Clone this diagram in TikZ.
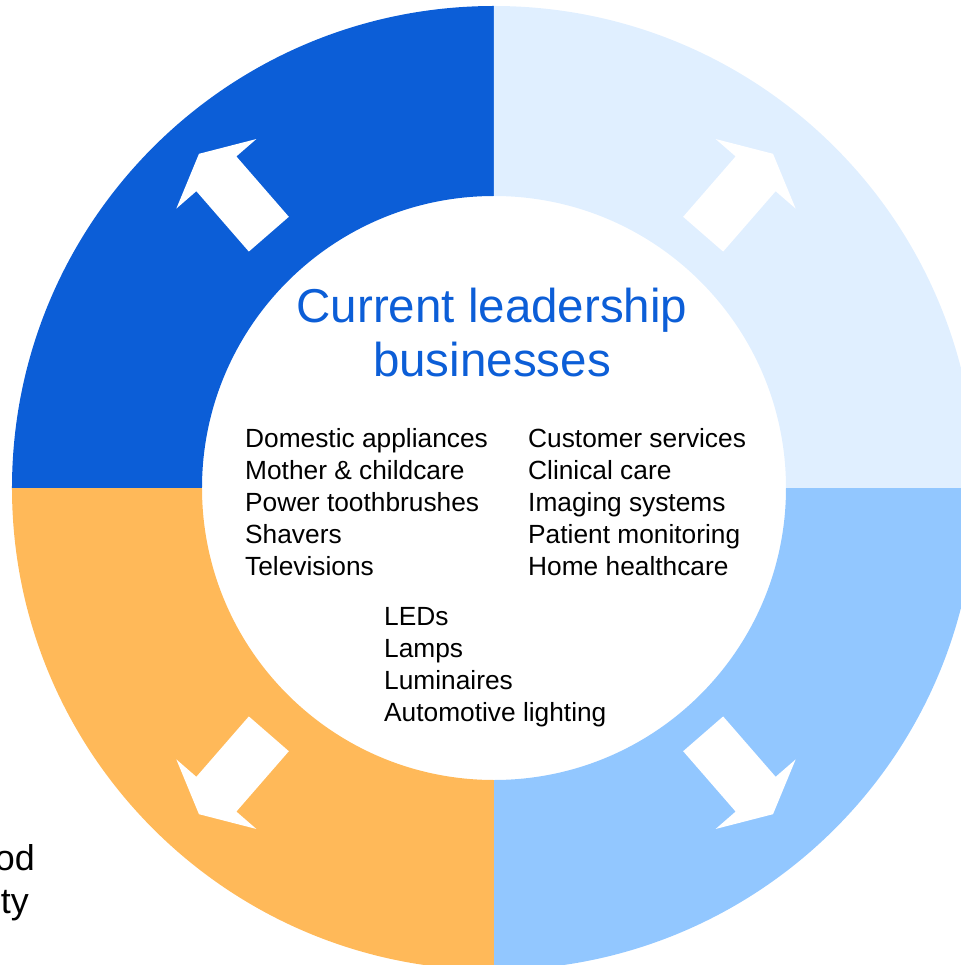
\documentclass[tikz,border=0pt]{standalone}
\usepackage{fontspec}
\setmainfont{Liberation Sans}
\usepackage{xcolor}
\usepackage{tikz}
\definecolor{ringdark}{RGB}{12,94,215}
\definecolor{ringpale}{RGB}{224,239,255}
\definecolor{ringmid}{RGB}{146,199,255}
\definecolor{ringorange}{RGB}{255,185,89}
\tikzset{%
  titletext/.style={anchor=base, inner sep=0pt, align=center, text=ringdark,
    font=\fontsize{47.7}{55}\selectfont},
  listtext/.style={anchor=base west, inner sep=0pt, align=left,
    font=\fontsize{26.4}{32}\selectfont},
  cuttext/.style={anchor=base east, inner sep=0pt, font=\fontsize{36}{43}\selectfont}
}

\begin{document}
\begin{tikzpicture}[x=1bp,y=1bp]
\useasboundingbox (-494,-477) rectangle (467,488);
% ring quarters
\fill[color=ringdark] (90:482) arc[start angle=90, end angle=180, radius=482] -- (180:292) arc[start angle=180, end angle=90, radius=292] -- cycle;
\fill[color=ringpale] (0:482) arc[start angle=0, end angle=90, radius=482] -- (90:292) arc[start angle=90, end angle=0, radius=292] -- cycle;
\fill[color=ringmid] (270:482) arc[start angle=270, end angle=360, radius=482] -- (0:292) arc[start angle=360, end angle=270, radius=292] -- cycle;
\fill[color=ringorange] (180:482) arc[start angle=180, end angle=270, radius=482] -- (270:292) arc[start angle=270, end angle=180, radius=292] -- cycle;
% white arrows
\begin{scope}[shift={(-8,4)}]
\foreach \a in {131,49,-49,-131}
  \fill[white, rotate=\a] (331,-26.5) -- (411,-26.5) -- (411,-53) -- (437.5,0) -- (411,53) -- (411,26.5) -- (331,26.5) -- cycle;
\end{scope}
% texts (base = last line)
\node[titletext] (title) at (-2,111) {Current leadership\\businesses};
\node[listtext] (consumer) at (-249,-87) {Domestic appliances\\Mother \& childcare\\Power toothbrushes\\Shavers\\Televisions};
\node[listtext] (health) at (34,-87) {Customer services\\Clinical care\\Imaging systems\\Patient monitoring\\Home healthcare};
\node[listtext] (lighting) at (-110,-233) {LEDs\\Lamps\\Luminaires\\Automotive lighting};
\node[cuttext] (cutA) at (-459,-382) {od};
\node[cuttext] (cutB) at (-465,-425) {ty};
\end{tikzpicture}
\end{document}
